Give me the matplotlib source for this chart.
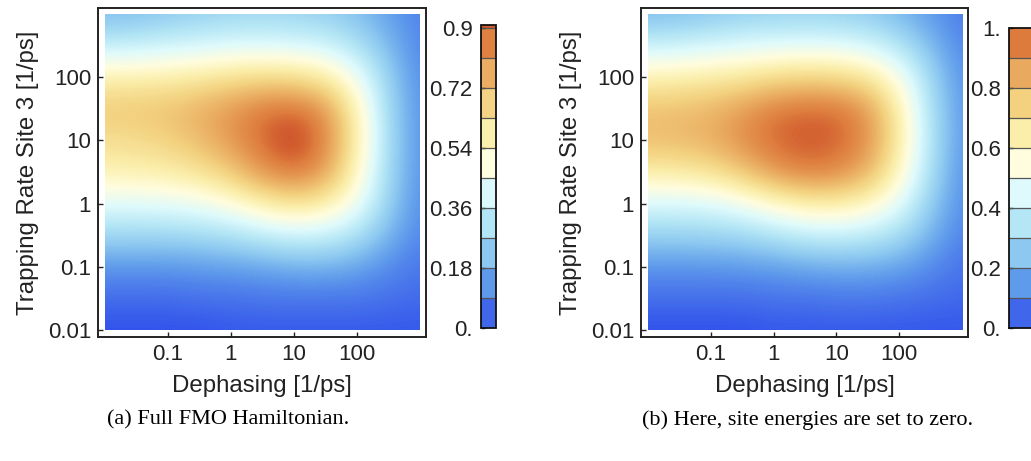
import numpy as np
import matplotlib
matplotlib.use("Agg")
import matplotlib.pyplot as plt
from matplotlib.colors import LinearSegmentedColormap, ListedColormap, BoundaryNorm, Normalize
from matplotlib.cm import ScalarMappable
from matplotlib.patches import Rectangle

# ---------------- data (log10 grid) ----------------
log_dephasing = [-2.0, -1.5, -1.0, -0.5, 0.0, 0.5, 1.0, 1.5, 2.0, 2.5, 3.0]
log_trapping = [-2.0, -1.5, -1.0, -0.5, 0.0, 0.5, 1.0, 1.5, 2.0, 2.5, 3.0]

# rows: trapping rate (bottom -> top), columns: dephasing (left -> right)
full_fmo = [
    [0.01, 0.01, 0.01, 0.01, 0.02, 0.02, 0.02, 0.02, 0.02, 0.02, 0.02],
    [0.05, 0.05, 0.05, 0.06, 0.06, 0.07, 0.07, 0.07, 0.07, 0.06, 0.05],
    [0.13, 0.13, 0.13, 0.14, 0.15, 0.16, 0.18, 0.18, 0.16, 0.11, 0.07],
    [0.27, 0.27, 0.27, 0.28, 0.30, 0.34, 0.37, 0.36, 0.30, 0.19, 0.10],
    [0.42, 0.42, 0.43, 0.45, 0.50, 0.58, 0.63, 0.59, 0.46, 0.25, 0.11],
    [0.57, 0.58, 0.59, 0.63, 0.70, 0.82, 0.88, 0.80, 0.55, 0.27, 0.12],
    [0.64, 0.65, 0.68, 0.73, 0.81, 0.89, 0.95, 0.86, 0.59, 0.28, 0.12],
    [0.70, 0.71, 0.72, 0.76, 0.81, 0.87, 0.89, 0.82, 0.57, 0.27, 0.12],
    [0.58, 0.58, 0.59, 0.61, 0.64, 0.66, 0.65, 0.60, 0.46, 0.25, 0.11],
    [0.35, 0.36, 0.38, 0.39, 0.41, 0.41, 0.40, 0.38, 0.31, 0.20, 0.10],
    [0.20, 0.21, 0.23, 0.25, 0.26, 0.27, 0.26, 0.25, 0.21, 0.15, 0.09],
]

zero_site_energies = [
    [0.01, 0.01, 0.01, 0.01, 0.02, 0.02, 0.02, 0.02, 0.02, 0.02, 0.02],
    [0.06, 0.06, 0.06, 0.06, 0.07, 0.07, 0.08, 0.08, 0.07, 0.06, 0.05],
    [0.14, 0.14, 0.14, 0.15, 0.16, 0.18, 0.19, 0.19, 0.17, 0.12, 0.07],
    [0.28, 0.28, 0.29, 0.30, 0.34, 0.38, 0.39, 0.37, 0.31, 0.20, 0.10],
    [0.44, 0.44, 0.45, 0.50, 0.58, 0.64, 0.65, 0.60, 0.47, 0.26, 0.12],
    [0.65, 0.66, 0.69, 0.78, 0.89, 0.95, 0.93, 0.83, 0.60, 0.31, 0.13],
    [0.80, 0.81, 0.84, 0.91, 0.98, 1.00, 0.99, 0.91, 0.66, 0.33, 0.14],
    [0.79, 0.80, 0.82, 0.88, 0.95, 0.98, 0.97, 0.89, 0.64, 0.32, 0.14],
    [0.63, 0.64, 0.66, 0.68, 0.72, 0.74, 0.73, 0.68, 0.53, 0.29, 0.13],
    [0.40, 0.41, 0.43, 0.45, 0.46, 0.47, 0.46, 0.43, 0.35, 0.22, 0.11],
    [0.22, 0.23, 0.25, 0.27, 0.28, 0.28, 0.28, 0.26, 0.21, 0.15, 0.09],
]

x_tick_labels = ["0.1", "1", "10", "100"]
x_tick_values = [0.1, 1, 10, 100]
y_tick_labels = ["0.01", "0.1", "1", "10", "100"]
y_tick_values = [0.01, 0.1, 1, 10, 100]

cbar_a_bounds = [0.0, 0.09, 0.18, 0.27, 0.36, 0.45, 0.54, 0.63, 0.72, 0.81, 0.90, 0.91]
cbar_a_ticks = [0.0, 0.18, 0.36, 0.54, 0.72, 0.9]
cbar_a_labels = ["0.", "0.18", "0.36", "0.54", "0.72", "0.9"]
cbar_b_bounds = [0.0, 0.1, 0.2, 0.3, 0.4, 0.5, 0.6, 0.7, 0.8, 0.9, 1.0]
cbar_b_ticks = [0.0, 0.2, 0.4, 0.6, 0.8, 1.0]
cbar_b_labels = ["0.", "0.2", "0.4", "0.6", "0.8", "1."]

captions = ["(a) Full FMO Hamiltonian.", "(b) Here, site energies are set to zero."]
xlabel = "Dephasing [1/ps]"
ylabel = "Trapping Rate Site 3 [1/ps]"

# ---------------- colormap ----------------
nodes = [0.0, 0.05, 0.15, 0.25, 0.35, 0.45, 0.55, 0.65, 0.75, 0.85, 0.95, 1.0]
rgb = [(45, 75, 235), (65, 105, 235), (95, 155, 235), (140, 200, 240), (180, 230, 245),
       (222, 250, 252), (255, 253, 222), (251, 238, 170), (243, 210, 128),
       (233, 170, 95), (222, 125, 62), (208, 88, 45)]
cmap = LinearSegmentedColormap.from_list(
    "temp", [(n, tuple(c / 255 for c in col)) for n, col in zip(nodes, rgb)])

W, H = 1031, 461
fig = plt.figure(figsize=(W / 100, H / 100), dpi=100)
plt.rcParams["font.family"] = ["Liberation Sans", "DejaVu Sans"]

def fx(px):
    return px / W

def fy(py_top, py_bot):
    return (H - py_bot) / H, (py_bot - py_top) / H

panels = [
    dict(frame=(98, 426, 8, 337), data=full_fmo, vmax=0.91, cbar=(481, 496, 25, 328),
         bounds=cbar_a_bounds, ticks=cbar_a_ticks, labels=cbar_a_labels, cap_x=228),
    dict(frame=(641, 968, 8, 337), data=zero_site_energies, vmax=1.0, cbar=(1009, 1050, 28, 328),
         bounds=cbar_b_bounds, ticks=cbar_b_ticks, labels=cbar_b_labels, cap_x=808),
]

ppd = 63.0  # pixels per decade
for p in panels:
    x0, x1, y0, y1 = p["frame"]
    b, h = fy(y0, y1)
    ax = fig.add_axes([fx(x0), b, fx(x1 - x0), h])
    norm = Normalize(0, p["vmax"])
    step = log_dephasing[1] - log_dephasing[0]
    ext = [log_dephasing[0] - step / 2, log_dephasing[-1] + step / 2,
           log_trapping[0] - step / 2, log_trapping[-1] + step / 2]
    im = ax.imshow(np.array(p["data"]), origin="lower", extent=ext, cmap=cmap, norm=norm,
                   interpolation="bicubic", interpolation_stage="data", aspect="auto")
    clip = Rectangle((log_dephasing[0], log_trapping[0]),
                     log_dephasing[-1] - log_dephasing[0], log_trapping[-1] - log_trapping[0],
                     transform=ax.transData, facecolor="none", edgecolor="none")
    im.set_clip_path(clip)
    ax.set_xlim(log_dephasing[0] - 7 / ppd, log_dephasing[-1] + 6 / ppd)
    ax.set_ylim(log_trapping[0] - 7 / 62.6, log_trapping[-1] + 6 / 62.6)
    ax.set_xticks(np.log10(x_tick_values))
    ax.set_xticklabels(x_tick_labels)
    ax.set_yticks(np.log10(y_tick_values))
    ax.set_yticklabels(y_tick_labels)
    ax.tick_params(direction="in", length=3.5, width=1.0, labelsize=16, color="#222222",
                   labelcolor="#222222")
    ax.tick_params(axis="x", pad=5)
    ax.tick_params(axis="y", pad=5)
    for s in ax.spines.values():
        s.set_linewidth(1.4)
        s.set_color("#222222")
    ax.set_xlabel(xlabel, fontsize=17.3, color="#222222", labelpad=7)
    ax.set_ylabel(ylabel, fontsize=17.3, color="#222222", labelpad=6)

    # colorbar
    cx0, cx1, cy0, cy1 = p["cbar"]
    cb_b, cb_h = fy(cy0, cy1)
    cax = fig.add_axes([fx(cx0), cb_b, fx(cx1 - cx0), cb_h])
    bnds = p["bounds"]
    centers = [(bnds[i] + bnds[i + 1]) / 2 / p["vmax"] for i in range(len(bnds) - 1)]
    lcmap = ListedColormap([cmap(c) for c in centers])
    bnorm = BoundaryNorm(bnds, lcmap.N)
    sm = ScalarMappable(norm=bnorm, cmap=lcmap)
    cb = fig.colorbar(sm, cax=cax, drawedges=True, ticks=p["ticks"], spacing="proportional")
    cb.ax.set_yticklabels(p["labels"])
    cb.ax.yaxis.set_ticks_position("left")
    cb.ax.yaxis.set_label_position("left")
    cb.ax.tick_params(direction="in", length=3, width=1.0, labelsize=16, pad=6,
                      color="#222222", labelcolor="#222222")
    cb.ax.minorticks_off()
    cb.dividers.set_color("#555555")
    cb.dividers.set_linewidth(0.9)
    cb.outline.set_linewidth(1.3)
    cb.outline.set_edgecolor("#111111")

for p, cap in zip(panels, captions):
    fig.text(fx(p["cap_x"]), (H - 420) / H, cap, ha="center", va="center",
             fontsize=16, family=["Liberation Serif", "DejaVu Serif"], color="black")

fig.savefig("out.png", dpi=100)
